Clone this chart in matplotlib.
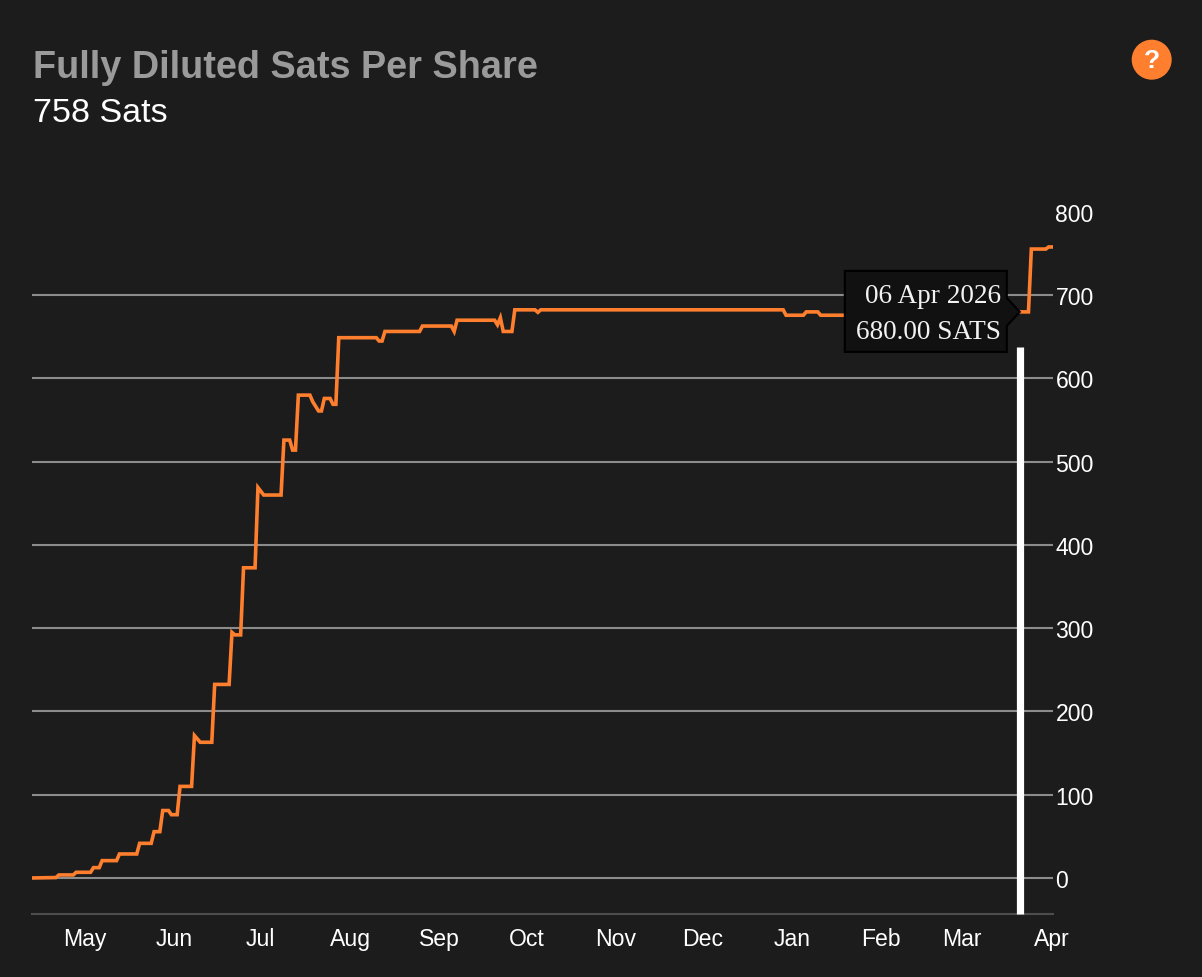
import matplotlib
matplotlib.use("Agg")
import matplotlib.pyplot as plt
import matplotlib.dates as mdates
from matplotlib.patches import Polygon, Circle
from matplotlib.transforms import IdentityTransform
import pandas as pd

# ---- data ----
dates = [
    "2025-04-29", "2025-05-07", "2025-05-08", "2025-05-13", "2025-05-14", "2025-05-19",
    "2025-05-20", "2025-05-22", "2025-05-23", "2025-05-28", "2025-05-29", "2025-06-04",
    "2025-06-05", "2025-06-09", "2025-06-10", "2025-06-12", "2025-06-13", "2025-06-15",
    "2025-06-16", "2025-06-18", "2025-06-19", "2025-06-23", "2025-06-24", "2025-06-26",
    "2025-06-30", "2025-07-01", "2025-07-06", "2025-07-07", "2025-07-08", "2025-07-10",
    "2025-07-11", "2025-07-15", "2025-07-16", "2025-07-18", "2025-07-24", "2025-07-25",
    "2025-07-27", "2025-07-28", "2025-07-29", "2025-07-30", "2025-08-03", "2025-08-04",
    "2025-08-06", "2025-08-07", "2025-08-08", "2025-08-10", "2025-08-11", "2025-08-12",
    "2025-08-13", "2025-08-26", "2025-08-27", "2025-08-28", "2025-08-29", "2025-09-10",
    "2025-09-11", "2025-09-21", "2025-09-22", "2025-09-23", "2025-10-06", "2025-10-07",
    "2025-10-08", "2025-10-09", "2025-10-12", "2025-10-13", "2025-10-20", "2025-10-21",
    "2025-10-22", "2026-01-14", "2026-01-15", "2026-01-21", "2026-01-22", "2026-01-26",
    "2026-01-27", "2026-03-20", "2026-03-21", "2026-04-09", "2026-04-10", "2026-04-15",
    "2026-04-16", "2026-04-17",
]
sats = [
    0, 0.5, 3.6, 3.6, 6.8, 6.8,
    12.4, 12.4, 20.8, 20.8, 28.8, 28.8,
    41.6, 41.6, 55.6, 55.6, 81, 81,
    76, 76, 110, 110, 171, 163,
    163, 232.5, 232.5, 295, 292, 292,
    372.6, 372.6, 469, 460, 460, 526,
    526, 514, 514, 580, 580, 572,
    561, 561, 576, 576, 569, 569,
    649, 649, 645, 645, 656.5, 656.5,
    663, 663, 656.5, 670, 670, 664.5,
    673, 656.5, 656.5, 682.5, 682.5, 679.5,
    682.5, 682.5, 676, 676, 680, 680,
    676, 676, 680, 680, 755.5, 755.5,
    758, 758,
]
month_ticks = ["2025-05-17", "2025-06-17", "2025-07-17", "2025-08-17", "2025-09-17",
               "2025-10-17", "2025-11-17", "2025-12-17", "2026-01-17", "2026-02-17",
               "2026-03-17", "2026-04-17"]
month_labels = ["May", "Jun", "Jul", "Aug", "Sep", "Oct", "Nov", "Dec", "Jan", "Feb", "Mar", "Apr"]
y_ticks = [0, 100, 200, 300, 400, 500, 600, 700, 800]
grid_vals = [0, 100, 200, 300, 400, 500, 600, 700]
title = "Fully Diluted Sats Per Share"
subtitle = "758 Sats"
hover_date = "2026-04-06"
hover_value = 680.0
hover_label = "06 Apr 2026"

BG = "#1c1c1c"
ORANGE = "#ff7f2e"

x = mdates.date2num(pd.to_datetime(dates))
xt = mdates.date2num(pd.to_datetime(month_ticks))
xh = mdates.date2num(pd.Timestamp(hover_date))

W, H = 1202, 978
fig = plt.figure(figsize=(W / 100, H / 100), dpi=100, facecolor=BG)
ax = fig.add_axes([32 / W, 63 / H, 1020.7 / W, 702 / H])
ax.set_facecolor(BG)

for g in grid_vals:
    ax.axhline(g, color="#8c8c8c", lw=1.5, zorder=1)

ax.plot(x, sats, color=ORANGE, lw=2.6, zorder=3, solid_joinstyle="miter")

ax.set_xlim(x[0] - 0.3, x[-1] + 0.4)
ax.set_ylim(-43.3, 800)

for s in ["top", "left", "right"]:
    ax.spines[s].set_visible(False)
ax.spines["bottom"].set_color("#4d4d4d")
ax.spines["bottom"].set_linewidth(1.5)

ax.set_xticks(xt)
ax.set_xticklabels(month_labels)
ax.yaxis.tick_right()
ax.set_yticks(y_ticks)
ax.set_yticklabels([str(v) for v in y_ticks])
ax.tick_params(axis="x", length=0, pad=9.5, labelsize=16.6, labelcolor="white")
ax.tick_params(axis="y", length=0, pad=2, labelsize=16.6, labelcolor="white")
for lab in ax.get_xticklabels() + ax.get_yticklabels():
    lab.set_family(["Liberation Sans", "DejaVu Sans"])
for lab in ax.get_yticklabels():
    lab.set_horizontalalignment("left")

# hover cursor line
ax.plot([xh, xh], [638, -43.3], color="white", lw=5.2, solid_capstyle="butt",
        zorder=4, clip_on=False)

# tooltip
fig.canvas.draw()
xa, ya = ax.transData.transform((xh, hover_value))
verts = [(xa - 175, ya + 41), (xa - 13, ya + 41), (xa - 13, ya + 14), (xa, ya),
         (xa - 13, ya - 14), (xa - 13, ya - 40), (xa - 175, ya - 40)]
tip = Polygon(verts, closed=True, transform=IdentityTransform(), facecolor="#111111",
              edgecolor="black", lw=1.5, zorder=10)
fig.patches.append(tip)
tx = (xa - 19) / W
fig.text(tx, (ya + 10) / H, hover_label, ha="right", va="baseline", color="#f2f2f2",
         fontsize=19.6, family=["Liberation Serif", "DejaVu Serif"], zorder=11)
fig.text(tx, (ya - 26) / H, f"{hover_value:.2f} SATS", ha="right", va="baseline",
         color="#f2f2f2", fontsize=19.6, family=["Liberation Serif", "DejaVu Serif"], zorder=11)

# titles
fig.text(33 / W, 1 - 78 / H, title, ha="left", va="baseline", color="#9a9a9a",
         fontsize=27.3, fontweight="bold", family=["Liberation Sans", "DejaVu Sans"])
fig.text(33 / W, 1 - 122 / H, subtitle, ha="left", va="baseline", color="white",
         fontsize=24.5, family=["Liberation Sans", "DejaVu Sans"])

# help icon
circ = Circle((1151.7, H - 60.7), 20, transform=IdentityTransform(), facecolor=ORANGE,
              edgecolor="none")
fig.patches.append(circ)
fig.text(1151.7 / W, 1 - 61 / H, "?", ha="center", va="center", color="white",
         fontsize=19, fontweight="bold", family=["Liberation Sans", "DejaVu Sans"])

fig.savefig("out.png", dpi=100, facecolor=BG)
